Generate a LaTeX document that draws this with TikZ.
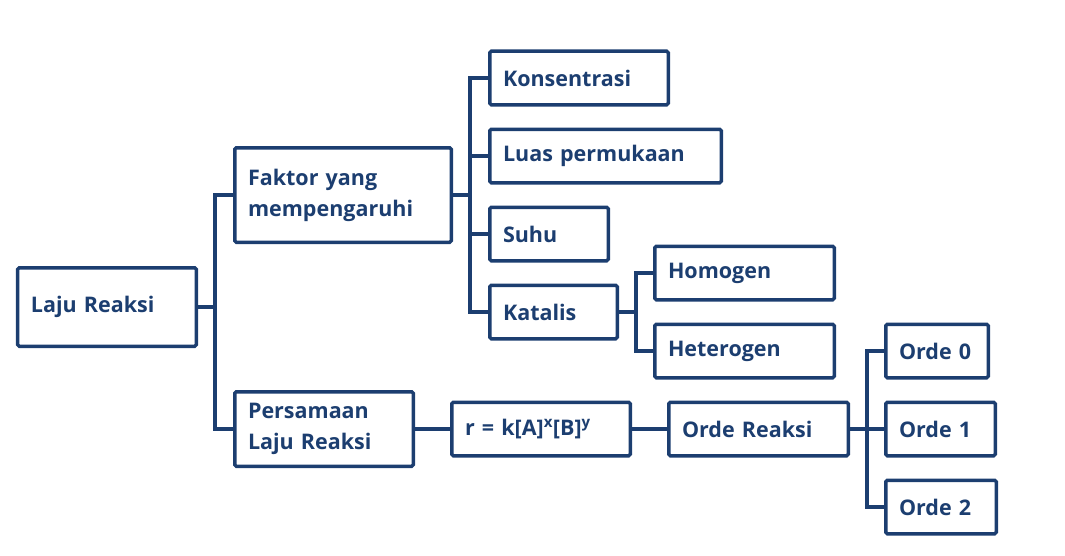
\documentclass[tikz,border=0pt]{standalone}
\usepackage{fontspec}
\setmainfont{Open Sans}
\usetikzlibrary{positioning, calc}
\definecolor{navy}{RGB}{28,62,112}

\begin{document}
\begin{tikzpicture}[node distance=35pt,
        box/.style={draw=navy, line width=3.5pt, rounded corners=1.5pt, text=navy, align=left,
            inner xsep=13.25pt, inner ysep=0pt, minimum height=53.5pt, text width=#1,
            font=\fontsize{21.5}{31}\selectfont\bfseries},
        box/.default=152pt,
        link/.style={draw=navy, line width=3.5pt}]
        \useasboundingbox (-107pt,307pt) rectangle (958pt,-248pt);
        \node[box, minimum height=78.5pt] (laju) {Laju Reaksi};
        \node[box=190pt, minimum height=94.5pt, right=of laju, yshift=112pt] (faktor) {Faktor yang\\mempengaruhi};
        \node[box, minimum height=74.5pt, right=of laju, yshift=-122pt] (persamaan) {Persamaan\\Laju Reaksi};
        \node[box, right=of persamaan] (rumus) {r = k[A]\textsuperscript{x}[B]\textsuperscript{y}};
        \node[box=153pt, right=of rumus] (orde) {Orde Reaksi};
        \node[box=83pt, right=34pt of orde] (orde1) {Orde 1};
        \node[box=76pt, above=21pt of orde1.north west, anchor=south west] (orde0) {Orde 0};
        \node[box=84pt, below=21pt of orde1.south west, anchor=north west] (orde2) {Orde 2};
        \node[box, right=of faktor, yshift=117pt] (kons) {Konsentrasi};
        \node[box=205pt, below=21pt of kons.south west, anchor=north west] (luas) {Luas permukaan};
        \node[box=92pt, below=21pt of luas.south west, anchor=north west] (suhu) {Suhu};
        \node[box=101pt, below=21pt of suhu.south west, anchor=north west] (katalis) {Katalis};
        \node[box=153pt, right=34pt of katalis, yshift=39pt] (homogen) {Homogen};
        \node[box=153pt, below=21pt of homogen.south west, anchor=north west] (hetero) {Heterogen};
        \foreach \c in {faktor, persamaan}
            \draw[link] (laju.east) -- ++(17pt,0) |- (\c.west);
        \foreach \c in {kons, luas, suhu, katalis}
            \draw[link] (faktor.east) -- ++(17pt,0) |- (\c.west);
        \foreach \c in {homogen, hetero}
            \draw[link] (katalis.east) -- ++(17pt,0) |- (\c.west);
        \foreach \c in {orde0, orde1, orde2}
            \draw[link] (orde.east) -- ++(17pt,0) |- (\c.west);
        \draw[link] (persamaan) -- (rumus);
        \draw[link] (rumus) -- (orde);
    \end{tikzpicture}
\end{document}
